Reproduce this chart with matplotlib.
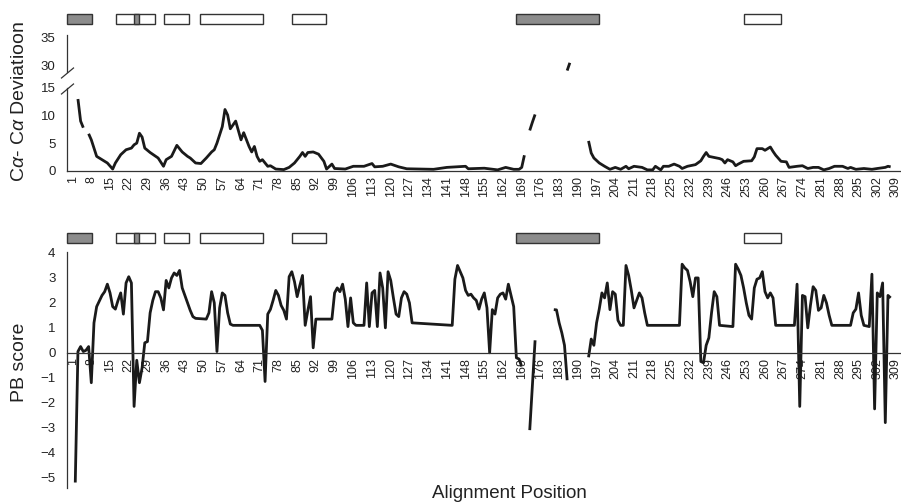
import numpy as np
import matplotlib
matplotlib.use("Agg")
import matplotlib.pyplot as plt
from matplotlib.patches import Rectangle
from matplotlib.lines import Line2D
import matplotlib.transforms as mtransforms

plt.rcParams['font.family'] = ['Liberation Sans', 'DejaVu Sans']
plt.rcParams['mathtext.fontset'] = 'custom'
plt.rcParams['mathtext.rm'] = 'Liberation Sans'
plt.rcParams['mathtext.it'] = 'Liberation Sans:italic'

nan = np.nan

# ---------------- data ----------------
ca_pos = [3, 4, 5, 6, 7, 8, 9, 10, 11, 14, 16, 17, 19, 21, 23, 24, 25, 26, 27, 28,
          30, 33, 35, 36, 38, 40, 42, 44, 45, 47, 49, 51, 53, 54, 55, 57, 58, 59, 60, 62,
          63, 64, 65, 67, 68, 69, 70, 71, 72, 74, 75, 77, 80, 82, 84, 86, 87, 88, 89, 91,
          93, 95, 96, 98, 99, 103, 106, 110, 113, 114, 117, 120, 123, 126, 136, 141, 148, 149, 155, 160,
          163, 166, 168, 169, 170, 171, 172, 173, 174, 175, 186, 187, 188, 194, 195, 196, 198, 200, 202, 204,
          206, 208, 209, 211, 214, 216, 218, 219, 221, 222, 224, 226, 228, 229, 231, 234, 236, 237, 238, 239,
          241, 243, 244, 245, 246, 248, 249, 250, 252, 255, 256, 257, 259, 260, 262, 263, 264, 266, 268, 269,
          272, 274, 276, 278, 280, 282, 284, 286, 289, 291, 292, 294, 297, 300, 302, 305, 306, 307]
ca_dev = [13.0, 9.0, 7.8, nan, 6.7, 5.6, 4.1, 2.6, 2.3, 1.4, 0.3, 1.4, 2.9, 3.8, 4.1, 4.7, 5.0, 6.8, 6.1, 4.1,
          3.3, 2.3, 0.8, 2.0, 2.6, 4.6, 3.4, 2.6, 2.3, 1.4, 1.3, 2.3, 3.4, 3.8, 5.0, 8.0, 11.1, 10.1, 7.6, 9.0,
          7.3, 5.6, 6.9, 4.4, 3.4, 4.4, 2.6, 1.7, 2.0, 0.8, 0.9, 0.3, 0.2, 0.6, 1.4, 2.6, 3.3, 2.6, 3.3, 3.4,
          3.0, 1.7, 0.3, 1.2, 0.4, 0.3, 0.8, 0.8, 1.3, 0.7, 0.8, 1.2, 0.7, 0.35, 0.25, 0.6, 0.8, 0.35, 0.45, 0.15,
          0.6, 0.25, 0.25, 0.6, 2.8, nan, 7.3, 8.8, 10.2, nan, 29.0, 30.4, nan, 5.4, 3.2, 2.3, 1.4, 0.8, 0.25, 0.6,
          0.25, 0.8, 0.35, 0.8, 0.6, 0.15, 0.15, 0.8, 0.15, 0.8, 0.8, 1.2, 0.8, 0.4, 0.8, 1.1, 1.8, 2.6, 3.3, 2.6,
          2.4, 2.2, 2.0, 1.4, 2.0, 1.6, 0.9, 1.2, 1.7, 1.8, 2.5, 4.0, 4.0, 3.7, 4.3, 3.5, 2.8, 1.7, 1.6, 0.6,
          0.8, 0.9, 0.4, 0.6, 0.6, 0.15, 0.4, 0.8, 0.8, 0.4, 0.6, 0.25, 0.4, 0.25, 0.4, 0.6, 0.8, 0.7]

pb_pos = [2, 3, 4, 5, 6, 7, 8, 9, 10, 12, 13, 14, 15, 16, 17, 18, 19, 20, 21, 22,
          23, 24, 25, 26, 27, 28, 29, 30, 31, 32, 33, 34, 35, 36, 37, 38, 39, 40, 41, 42,
          43, 44, 45, 46, 47, 51, 52, 53, 54, 55, 56, 57, 58, 59, 60, 61, 71, 72, 73, 74,
          75, 76, 77, 78, 79, 80, 81, 82, 83, 84, 85, 86, 87, 88, 89, 90, 91, 92, 98, 99,
          100, 101, 102, 103, 104, 105, 106, 107, 110, 111, 112, 113, 114, 115, 116, 117, 118, 119, 120, 121,
          122, 123, 124, 125, 126, 127, 128, 143, 144, 145, 146, 147, 148, 149, 150, 151, 152, 153, 154, 155,
          156, 157, 158, 159, 160, 161, 162, 163, 164, 165, 166, 167, 168, 169, 170, 172, 173, 174, 175, 181,
          182, 183, 184, 185, 186, 187, 194, 195, 196, 197, 198, 199, 200, 201, 202, 203, 204, 205, 206, 207,
          208, 209, 210, 211, 212, 213, 214, 215, 216, 228, 229, 230, 231, 232, 233, 234, 235, 236, 237, 238,
          239, 240, 241, 242, 243, 248, 249, 250, 251, 252, 253, 254, 255, 256, 257, 258, 259, 260, 261, 262,
          263, 264, 271, 272, 273, 274, 275, 276, 277, 278, 279, 280, 281, 282, 283, 284, 285, 292, 293, 294,
          295, 296, 297, 299, 300, 301, 302, 303, 304, 305, 306, 307]
pb_score = [-5.2, 0.05, 0.25, 0.05, 0.1, 0.25, -1.2, 1.2, 1.85, 2.3, 2.45, 2.75, 2.4, 1.85, 1.75, 2.1, 2.4, 1.55, 2.8, 3.05,
            2.8, -2.15, -0.3, -1.2, -0.6, 0.4, 0.45, 1.6, 2.1, 2.45, 2.45, 2.2, 1.72, 2.9, 2.6, 3.0, 3.2, 3.1, 3.3, 2.6,
            2.3, 2.0, 1.7, 1.45, 1.38, 1.35, 1.6, 2.45, 2.0, 0.05, 1.8, 2.4, 2.3, 1.6, 1.15, 1.1, 1.1, 0.9, -1.15, 1.55,
            1.74, 2.1, 2.5, 2.3, 1.9, 1.7, 1.35, 3.05, 3.25, 2.85, 2.25, 2.7, 3.1, 1.1, 1.7, 2.25, 0.2, 1.35, 1.35, 2.4,
            2.6, 2.45, 2.75, 2.15, 1.05, 2.2, 1.2, 1.1, 1.1, 2.8, 1.05, 2.4, 2.5, 1.05, 3.2, 2.6, 1.0, 3.25, 2.9, 2.2,
            1.55, 1.45, 2.2, 2.45, 2.35, 2.0, 1.2, 1.1, 2.95, 3.5, 3.25, 3.0, 2.5, 2.3, 2.35, 2.2, 2.1, 1.75, 2.15, 2.4,
            1.8, 0.0, 1.73, 1.55, 2.2, 2.35, 2.4, 2.15, 2.75, 2.3, 1.85, -0.2, -0.25, -0.55, nan, -3.1, -1.3, 0.5, nan, 1.73,
            1.72, 1.2, 0.8, 0.3, -1.1, nan, -0.18, 0.55, 0.3, 1.2, 1.75, 2.4, 2.2, 2.8, 1.73, 2.45, 2.35, 1.3, 1.1, 1.1,
            3.5, 3.1, 2.5, 1.8, 2.1, 2.4, 2.2, 1.6, 1.1, 1.1, 3.55, 3.4, 3.3, 2.85, 2.25, 3.0, 3.0, -0.35, -0.4, 0.3,
            0.6, 1.6, 2.45, 2.25, 1.1, 1.05, 3.55, 3.35, 3.1, 2.6, 2.0, 1.5, 1.35, 2.6, 2.95, 3.0, 3.25, 2.45, 2.2, 2.4,
            2.2, 1.1, 1.1, 2.75, -2.15, 2.3, 2.25, 1.0, 1.9, 2.65, 2.5, 1.7, 1.8, 2.3, 2.0, 1.5, 1.1, 1.1, 1.6, 1.75,
            2.4, 1.5, 1.1, 1.05, 3.15, -2.25, 2.4, 2.25, 2.8, -2.8, 2.3, 2.2]

tick_positions = list(range(1, 310, 7))

# secondary-structure segments (alignment positions)
seg_start = [-1, 17.3, 35.2, 48.7, 83.1, 166.9, 252.3, 24.1]
seg_end = [8.1, 31.7, 44.4, 72.3, 95.9, 198.0, 265.9, 26.0]
seg_kind = ['helix', 'strand', 'strand', 'strand', 'strand', 'helix', 'strand', 'helix']

# ---------------- layout ----------------
W, H = 901, 504
fig = plt.figure(figsize=(W / 100, H / 100), dpi=100)


def rect(l, t, r, b):
    return [l / W, 1 - b / H, (r - l) / W, (b - t) / H]


XL = (-0.98, 310.5)
LINE = dict(color='#1a1a1a', lw=2.0, solid_joinstyle='round', solid_capstyle='butt')
SPINE_C = '#333333'
TICK_C = '#222222'

ax_hi = fig.add_axes(rect(67.3, 35, 900, 72))
ax_lo = fig.add_axes(rect(67.3, 88, 900, 170.7))
ax_pb = fig.add_axes(rect(67.3, 252, 900, 488))

ca_pos_a = np.array(ca_pos, dtype=float)
ca_dev_a = np.array(ca_dev, dtype=float)
pb_pos_a = np.array(pb_pos, dtype=float)
pb_score_a = np.array(pb_score, dtype=float)

lo_vals = np.where(ca_dev_a > 15.5, nan, ca_dev_a)
hi_vals = np.where(ca_dev_a >= 28, ca_dev_a, nan)
ax_lo.plot(ca_pos_a, lo_vals, clip_on=False, **LINE)
ax_hi.plot(ca_pos_a, hi_vals, **LINE)
ax_pb.plot(pb_pos_a, pb_score_a, **LINE)

for ax in (ax_hi, ax_lo, ax_pb):
    ax.set_xlim(*XL)
    ax.patch.set_visible(False)
    for s in ('top', 'right'):
        ax.spines[s].set_visible(False)
    for s in ('left', 'bottom'):
        ax.spines[s].set_color(SPINE_C)
        ax.spines[s].set_linewidth(0.9)
    ax.tick_params(axis='y', length=0, pad=8.5, labelsize=9.5, labelcolor=TICK_C)

ax_hi.set_ylim(28.74, 35.42)
ax_hi.set_yticks([30, 35])
ax_hi.spines['bottom'].set_visible(False)
ax_hi.set_xticks([])

ax_lo.set_ylim(0, 15)
ax_lo.set_yticks([0, 5, 10, 15])

ax_pb.set_ylim(-5.42, 4.04)
ax_pb.set_yticks(range(-5, 5))
ax_pb.spines['bottom'].set_position(('data', 0))

for ax in (ax_lo, ax_pb):
    ax.set_xticks(tick_positions)
    ax.set_xticklabels([str(t) for t in tick_positions], rotation=90)
    ax.tick_params(axis='x', length=0, pad=4, labelsize=9, labelcolor=TICK_C)

# axis break marks
for yc in (73, 89):
    fig.add_artist(Line2D([(67.5 - 6) / W, (67.5 + 6) / W],
                          [1 - (yc + 5) / H, 1 - (yc - 5) / H],
                          color=SPINE_C, lw=0.9))

# secondary structure bars
colors = {'helix': '#8c8c8c', 'strand': 'white'}
for ax, (top, bot) in ((ax_lo, (14, 24)), (ax_pb, (233, 243))):
    tr = mtransforms.blended_transform_factory(ax.transData, fig.transFigure)
    for s, e, k in zip(seg_start, seg_end, seg_kind):
        fig.add_artist(Rectangle((s, 1 - bot / H), e - s, (bot - top) / H, transform=tr,
                                 facecolor=colors[k], edgecolor='#333333', lw=1.0,
                                 clip_on=False))

fig.text(20 / W, 1 - 102 / H, r'C$\alpha$- C$\alpha$ Deviatioon', rotation=90,
         ha='center', va='center', fontsize=14, color='#222222')
fig.text(20 / W, 1 - 362 / H, 'PB score', rotation=90,
         ha='center', va='center', fontsize=14, color='#222222')
fig.text(509 / W, 1 - 494 / H, 'Alignment Position', ha='center', va='center',
         fontsize=13.5, color='#222222')

fig.savefig('out.png', dpi=100)
